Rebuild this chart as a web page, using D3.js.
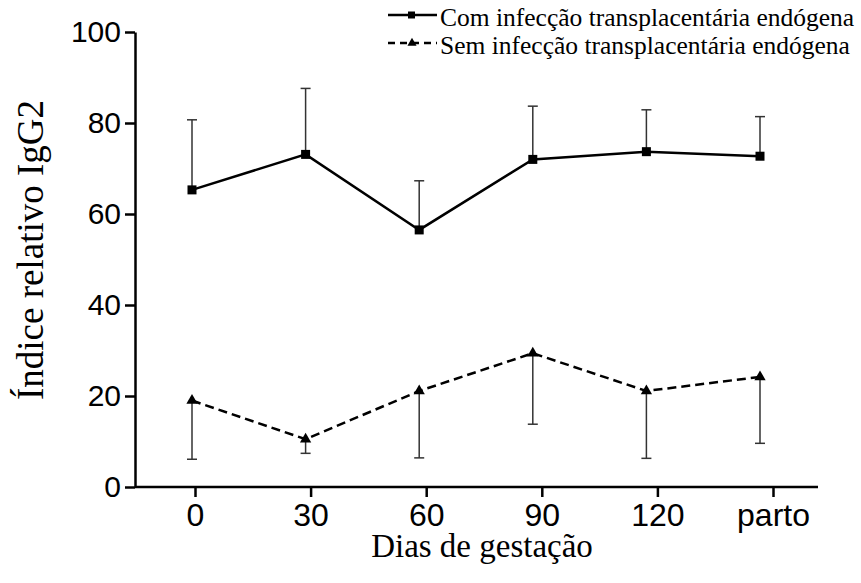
<!DOCTYPE html>
<html>
<head>
<meta charset="utf-8">
<script src="https://cdn.jsdelivr.net/npm/d3@7"></script>
<style>
  body { margin: 0; background: #fff; }
  svg { display: block; }
</style>
</head>
<body>
<script>
// chart data
const days = ["0", "30", "60", "90", "120", "parto"];
const comMean = [65.3, 73.1, 56.5, 72.0, 73.7, 72.7];
const comUpper = [80.7, 87.6, 67.3, 83.7, 82.9, 81.4];
const semMean = [19.0, 10.5, 21.1, 29.4, 21.1, 24.2];
const semLower = [6.1, 7.4, 6.4, 13.8, 6.3, 9.6];
const yTicks = [0, 20, 40, 60, 80, 100];
const seriesNames = ["Com infecção transplacentária endógena", "Sem infecção transplacentária endógena"];

const width = 861, height = 583;

const svg = d3.select("body").append("svg")
  .attr("width", width)
  .attr("height", height);

// scales
const y = d3.scaleLinear().domain([0, 100]).range([487, 32]);
const xTick = d3.scalePoint().domain(days).range([195, 773]);
const xPt = d3.scalePoint().domain(days).range([192, 760]); // points sit a bit left of the ticks

// y axis
const yAxis = svg.append("g")
  .attr("transform", "translate(135,0)")
  .call(d3.axisLeft(y).tickValues(yTicks).tickSize(10).tickPadding(4).tickSizeOuter(0));
yAxis.select(".domain").attr("stroke", "#000").attr("stroke-width", 2.5);
yAxis.selectAll(".tick line").attr("stroke", "#000").attr("stroke-width", 2.5);
yAxis.selectAll(".tick text")
  .attr("font-family", "Liberation Sans, Arial, sans-serif")
  .attr("font-size", 30)
  .attr("fill", "#000");

// x axis
svg.append("line")
  .attr("x1", 135).attr("x2", 818)
  .attr("y1", y(0)).attr("y2", y(0))
  .attr("stroke", "#000").attr("stroke-width", 2.5);
const xAxis = svg.append("g")
  .attr("transform", `translate(0,${y(0)})`)
  .call(d3.axisBottom(xTick).tickSize(10).tickPadding(6).tickSizeOuter(0));
xAxis.select(".domain").remove();
xAxis.selectAll(".tick line").attr("stroke", "#000").attr("stroke-width", 2.5);
xAxis.selectAll(".tick text")
  .attr("font-family", "Liberation Sans, Arial, sans-serif")
  .attr("font-size", 32)
  .attr("fill", "#000");

// axis titles
svg.append("text")
  .attr("x", 482).attr("y", 557)
  .attr("text-anchor", "middle")
  .attr("font-family", "Liberation Serif, Times New Roman, serif")
  .attr("font-size", 33)
  .text("Dias de gestação");

svg.append("text")
  .attr("transform", "translate(43,250) rotate(-90)")
  .attr("text-anchor", "middle")
  .attr("font-family", "Liberation Serif, Times New Roman, serif")
  .attr("font-size", 37)
  .text("Índice relativo IgG2");

// error bars
const errColor = "#333";
function errorBars(means, ends) {
  const g = svg.append("g");
  days.forEach((d, i) => {
    g.append("line")
      .attr("x1", xPt(d)).attr("x2", xPt(d))
      .attr("y1", y(means[i])).attr("y2", y(ends[i]))
      .attr("stroke", errColor).attr("stroke-width", 1.5);
    g.append("line")
      .attr("x1", xPt(d) - 5).attr("x2", xPt(d) + 5)
      .attr("y1", y(ends[i])).attr("y2", y(ends[i]))
      .attr("stroke", errColor).attr("stroke-width", 1.5);
  });
}
errorBars(comMean, comUpper);
errorBars(semMean, semLower);

// lines
const line = d3.line().x((v, i) => xPt(days[i])).y(v => y(v));

svg.append("path")
  .attr("d", line(comMean))
  .attr("fill", "none").attr("stroke", "#000").attr("stroke-width", 2.5);

svg.append("path")
  .attr("d", line(semMean))
  .attr("fill", "none").attr("stroke", "#000").attr("stroke-width", 2.5)
  .attr("stroke-dasharray", "9,5");

// markers
svg.selectAll("rect.com")
  .data(comMean)
  .enter()
  .append("rect")
  .attr("class", "com")
  .attr("x", (v, i) => xPt(days[i]) - 4.5)
  .attr("y", v => y(v) - 4.5)
  .attr("width", 9).attr("height", 9)
  .attr("fill", "#000");

const tri = d3.symbol().type(d3.symbolTriangle).size(55);
svg.selectAll("path.sem")
  .data(semMean)
  .enter()
  .append("path")
  .attr("class", "sem")
  .attr("d", tri)
  .attr("transform", (v, i) => `translate(${xPt(days[i])},${y(v)})`)
  .attr("fill", "#000");

// legend
const legend = svg.append("g");
const legendY = [15, 43];
seriesNames.forEach((name, i) => {
  legend.append("line")
    .attr("x1", 388).attr("x2", 437)
    .attr("y1", legendY[i]).attr("y2", legendY[i])
    .attr("stroke", "#000").attr("stroke-width", 2.5)
    .attr("stroke-dasharray", i === 1 ? "7,5" : null);
  if (i === 0) {
    legend.append("rect")
      .attr("x", 408).attr("y", legendY[i] - 3.5)
      .attr("width", 7).attr("height", 7)
      .attr("fill", "#000");
  } else {
    legend.append("path")
      .attr("d", d3.symbol().type(d3.symbolTriangle).size(36))
      .attr("transform", `translate(412,${legendY[i]})`)
      .attr("fill", "#000");
  }
  legend.append("text")
    .attr("x", 440).attr("y", legendY[i] + 11)
    .attr("font-family", "Liberation Serif, Times New Roman, serif")
    .attr("font-size", 25.5)
    .text(name);
});
</script>
</body>
</html>
